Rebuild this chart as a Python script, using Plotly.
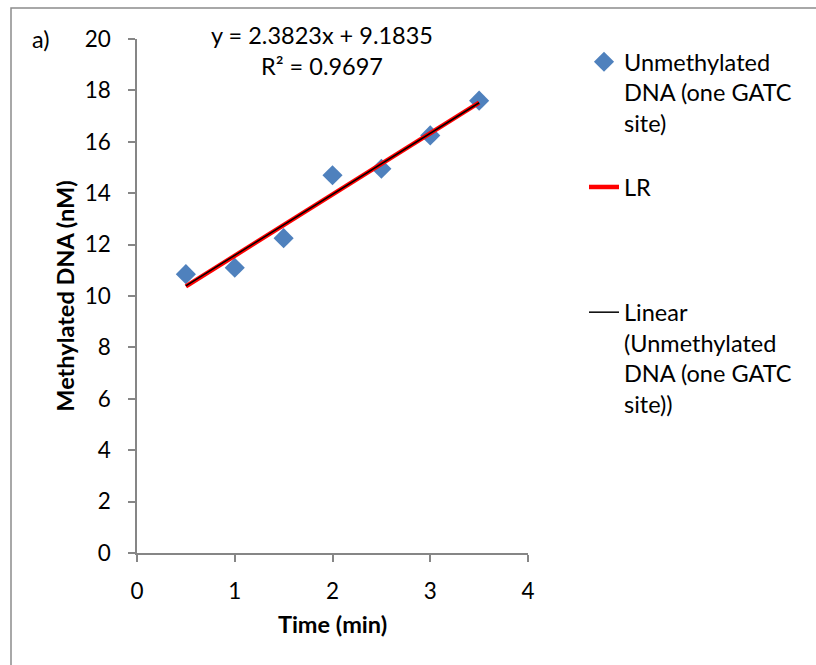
import numpy as np
import plotly.graph_objects as go

# ---- data ----
time_min = [0.5, 1.0, 1.5, 2.0, 2.5, 3.0, 3.5]
methylated_nM = [10.85, 11.10, 12.25, 14.70, 14.95, 16.25, 17.60]
lr_slope = 2.3823
lr_intercept = 9.1835
r_squared = 0.9697
x_ticks = [0, 1, 2, 3, 4]
y_ticks = [0, 2, 4, 6, 8, 10, 12, 14, 16, 18, 20]

FONT = "Lato"
FS = 23.5
TFS = 22.5

lr_x = [time_min[0], time_min[-1]]
lr_y = [lr_slope * v + lr_intercept for v in lr_x]
coef = np.polyfit(time_min, methylated_nM, 1)
fit_y = list(np.polyval(coef, lr_x))

fig = go.Figure()
fig.add_trace(go.Scatter(
    x=time_min, y=methylated_nM, mode="markers",
    name="Unmethylated<br>DNA (one GATC<br>site)<br>&nbsp;",
    marker=dict(symbol="diamond", size=15.5, color="#4F81BD"),
))
fig.add_trace(go.Scatter(
    x=lr_x, y=lr_y, mode="lines", name="LR<br>&nbsp;<br>&nbsp;<br>&nbsp;",
    line=dict(color="#FF0000", width=4.5),
))
fig.add_trace(go.Scatter(
    x=lr_x, y=fit_y, mode="lines",
    name="Linear<br>(Unmethylated<br>DNA (one GATC<br>site))",
    line=dict(color="#000000", width=1.5),
))

L, R, T, B = 137, 288, 39, 112
PW = 816 - L - R
PH = 665 - T - B


def px(p):
    return (p - L) / PW


def py(q):
    return (665 - B - q) / PH


axis_common = dict(
    showgrid=False, zeroline=False, showline=True, linecolor="#868686", linewidth=1.5,
    ticks="outside", ticklen=7, tickcolor="#868686", tickwidth=1.5,
    tickfont=dict(family=FONT, size=TFS, color="#000000"),
)

fig.update_layout(
    width=816, height=665,
    margin=dict(l=L, r=R, t=T, b=B),
    paper_bgcolor="white", plot_bgcolor="white",
    font=dict(family=FONT, size=FS, color="#000000"),
    xaxis=dict(range=[0, 4], tickvals=x_ticks, ticklabelstandoff=10,
               title=dict(text="<b>Time (min)</b>", font=dict(family=FONT, size=FS), standoff=14),
               **axis_common),
    yaxis=dict(range=[0, 20], tickvals=y_ticks, ticklabelstandoff=13,
               title=dict(text="<b>Methylated DNA (nM)</b>", font=dict(family=FONT, size=FS), standoff=3),
               **axis_common),
    legend=dict(x=px(584), y=py(40), xanchor="left", yanchor="top",
                valign="top", tracegroupgap=0, bgcolor="rgba(0,0,0,0)",
                font=dict(family=FONT, size=FS)),
    showlegend=True,
)

fig.add_annotation(xref="paper", yref="paper", x=px(41), y=py(39), text="a)",
                   showarrow=False, xanchor="center", yanchor="middle",
                   font=dict(family=FONT, size=FS))
fig.add_annotation(xref="paper", yref="paper", x=px(322), y=py(50),
                   text=f"y = {lr_slope}x + {lr_intercept}<br>R² = {r_squared}",
                   showarrow=False, xanchor="center", yanchor="middle", align="center",
                   font=dict(family=FONT, size=FS))

fig.add_shape(type="rect", xref="paper", yref="paper",
              x0=px(11), x1=px(830), y0=py(700), y1=py(8),
              line=dict(color="#8C8C8C", width=1.5), fillcolor="rgba(0,0,0,0)", layer="below")

fig.write_html("out.html")
